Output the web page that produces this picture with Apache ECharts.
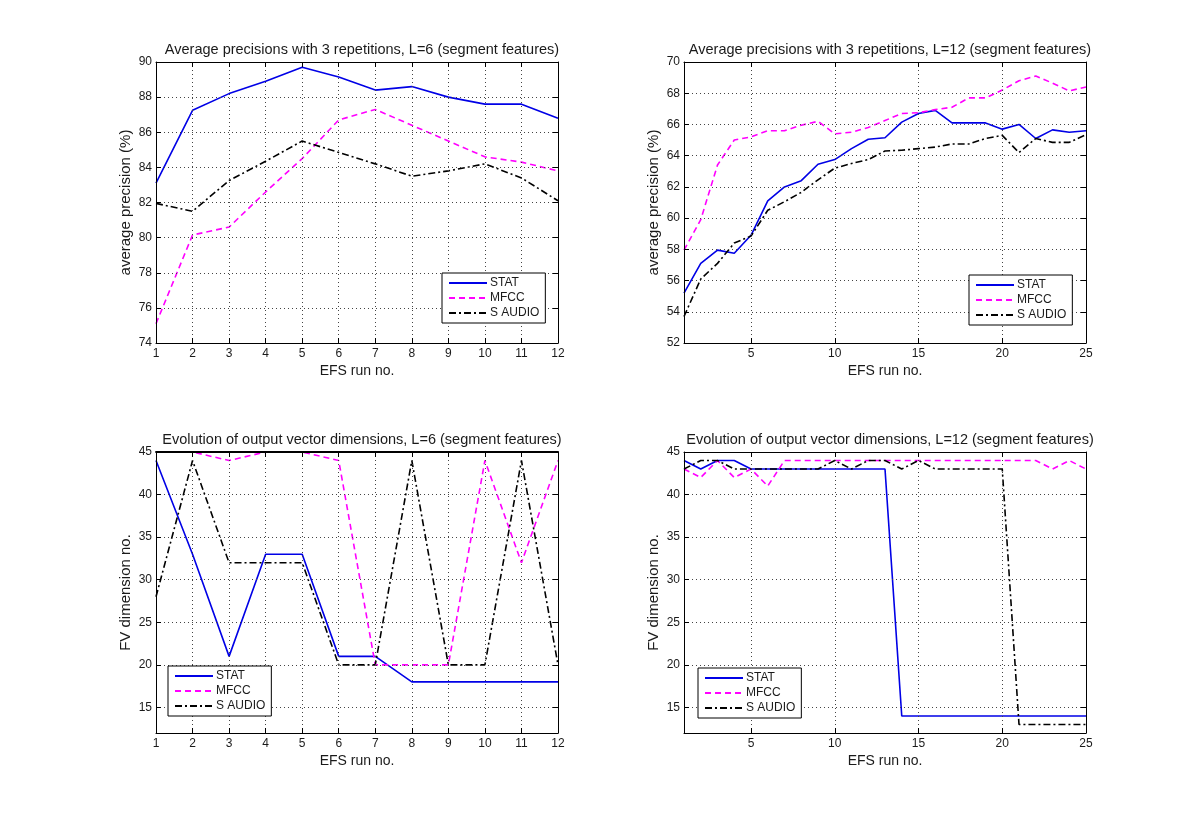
<!DOCTYPE html>
<html><head><meta charset="utf-8">
<script src="https://cdn.jsdelivr.net/npm/echarts@6/dist/echarts.min.js"></script>
<style>html,body{margin:0;padding:0;background:#fff}#c{width:1200px;height:823px}</style>
</head><body><div id="c"></div>
<script>
// ---------- data ----------
const seriesNames = ['STAT', 'MFCC', 'S AUDIO'];
const runsL6 = [1,2,3,4,5,6,7,8,9,10,11,12];
const runsL12 = [1,2,3,4,5,6,7,8,9,10,11,12,13,14,15,16,17,18,19,20,21,22,23,24,25];

// Average precision, L=6
const precL6_STAT   = [83.1, 87.25, 88.2, 88.9, 89.7, 89.15, 88.4, 88.6, 88.0, 87.6, 87.6, 86.8];
const precL6_MFCC   = [75.1, 80.15, 80.6, 82.6, 84.5, 86.7, 87.3, 86.4, 85.5, 84.6, 84.3, 83.8];
const precL6_SAUDIO = [81.95, 81.5, 83.25, 84.35, 85.5, 84.85, 84.2, 83.5, 83.8, 84.2, 83.4, 82.1];

// Average precision, L=12
const precL12_STAT   = [55.2, 57.1, 57.95, 57.75, 58.9, 61.1, 62.0, 62.4, 63.45, 63.75, 64.45, 65.05, 65.15, 66.15, 66.7, 66.9, 66.1, 66.1, 66.1, 65.7, 66.0, 65.1, 65.65, 65.5, 65.6];
const precL12_MFCC   = [57.95, 59.9, 63.4, 65.0, 65.2, 65.6, 65.6, 65.95, 66.2, 65.4, 65.5, 65.8, 66.25, 66.7, 66.75, 66.95, 67.1, 67.7, 67.7, 68.2, 68.8, 69.1, 68.65, 68.15, 68.4];
const precL12_SAUDIO = [53.7, 56.1, 57.1, 58.4, 58.85, 60.5, 61.05, 61.65, 62.45, 63.2, 63.5, 63.75, 64.3, 64.35, 64.45, 64.55, 64.75, 64.75, 65.1, 65.3, 64.2, 65.1, 64.85, 64.85, 65.35];

// FV dimension, L=6
const dimL6_STAT   = [44, 33, 21, 33, 33, 21, 21, 18, 18, 18, 18, 18];
const dimL6_MFCC   = [45, 45, 44, 45, 45, 44, 20, 20, 20, 44, 32, 44];
const dimL6_SAUDIO = [28, 44, 32, 32, 32, 20, 20, 44, 20, 20, 44, 20];

// FV dimension, L=12
const dimL12_STAT   = [44, 43, 44, 44, 43, 43, 43, 43, 43, 43, 43, 43, 43, 14, 14, 14, 14, 14, 14, 14, 14, 14, 14, 14, 14];
const dimL12_MFCC   = [43, 42, 44, 42, 43, 41, 44, 44, 44, 44, 44, 44, 44, 44, 44, 44, 44, 44, 44, 44, 44, 44, 43, 44, 43];
const dimL12_SAUDIO = [43, 44, 44, 43, 43, 43, 43, 43, 43, 44, 43, 44, 44, 43, 44, 43, 43, 43, 43, 43, 13, 13, 13, 13, 13];

const titles = [
  'Average precisions with 3 repetitions, L=6 (segment features)',
  'Average precisions with 3 repetitions, L=12 (segment features)',
  'Evolution of output vector dimensions, L=6 (segment features)',
  'Evolution of output vector dimensions, L=12 (segment features)'
];
const xName = 'EFS run no.';
const yNames = ['average precision (%)', 'average precision (%)', 'FV dimension no.', 'FV dimension no.'];
const xTicksL12 = [5, 10, 15, 20, 25];
const yTicksDim = [15, 20, 25, 30, 35, 40, 45];

// ---------- layout / style ----------
const FONT = "'Liberation Sans', Arial, sans-serif";
const TXT = '#1a1a1a';
const colors = ['#0000e6', '#ff00ff', '#000000'];
const dashes = ['solid', [6, 4], [7, 3, 2, 3]];

const panels = [
  {left: 156, top: 62,  runs: runsL6,  data: [precL6_STAT, precL6_MFCC, precL6_SAUDIO],
   x: {min: 1, max: 12, interval: 1}, y: {min: 74, max: 90, interval: 2}, legend: {left: 442, top: 273}, topW: 1},
  {left: 684, top: 62,  runs: runsL12, data: [precL12_STAT, precL12_MFCC, precL12_SAUDIO],
   x: {min: 1, max: 25, custom: xTicksL12}, y: {min: 52, max: 70, interval: 2}, legend: {left: 969, top: 275}, topW: 1},
  {left: 156, top: 452, runs: runsL6,  data: [dimL6_STAT, dimL6_MFCC, dimL6_SAUDIO],
   x: {min: 1, max: 12, interval: 1}, y: {min: 12, max: 45, custom: yTicksDim}, legend: {left: 168, top: 666}, topW: 1.8},
  {left: 684, top: 452, runs: runsL12, data: [dimL12_STAT, dimL12_MFCC, dimL12_SAUDIO],
   x: {min: 1, max: 25, custom: xTicksL12}, y: {min: 12, max: 45, custom: yTicksDim}, legend: {left: 698, top: 668}, topW: 1}
];
const W = 402, H = 281;

const grid = [], xAxis = [], yAxis = [], series = [], title = [], legend = [];

function makeAxis(spec, main, isX, gi, position, nameTxt, lw) {
  const a = {
    type: 'value', gridIndex: gi, position: position,
    min: spec.min, max: spec.max, z: 5,
    axisLine: {show: true, lineStyle: {color: '#000', width: lw || 1}},
    axisTick: {show: true, inside: true, length: 5, lineStyle: {color: '#000'}},
    axisLabel: {show: main, color: TXT, fontFamily: FONT, fontSize: 12, margin: isX ? 5 : 4},
    splitLine: {show: main, lineStyle: {color: '#444', type: [1, 3], width: 1}}
  };
  if (spec.interval) a.interval = spec.interval;
  if (spec.custom) {
    a.axisTick.customValues = spec.custom;
    a.axisLabel.customValues = spec.custom;
  }
  if (main) {
    a.name = nameTxt;
    a.nameLocation = 'middle';
    a.nameGap = isX ? 21 : 23;
    a.nameTextStyle = {color: TXT, fontFamily: FONT, fontSize: isX ? 14 : 15};
  }
  return a;
}

panels.forEach((p, i) => {
  grid.push({left: p.left, top: p.top, width: W, height: H, show: false, containLabel: false});
  const xi = xAxis.length;
  xAxis.push(makeAxis(p.x, true, true, i, 'bottom', xName));
  xAxis.push(makeAxis(p.x, false, true, i, 'top', null, p.topW));
  const yi = yAxis.length;
  yAxis.push(makeAxis(p.y, true, false, i, 'left', yNames[i]));
  yAxis.push(makeAxis(p.y, false, false, i, 'right', null));
  seriesNames.forEach((nm, k) => {
    series.push({
      type: 'line', name: nm, xAxisIndex: xi, yAxisIndex: yi,
      data: p.runs.map((r, j) => [r, p.data[k][j]]),
      symbol: 'none', clip: true, animation: false,
      lineStyle: {color: colors[k], width: 1.6, type: dashes[k]},
      itemStyle: {color: colors[k]}, z: 2
    });
  });
  title.push({
    text: titles[i], left: p.left + W / 2, top: p.top - 25, textAlign: 'center',
    textStyle: {color: TXT, fontFamily: FONT, fontSize: 14.5, fontWeight: 'normal'}
  });
  legend.push({
    data: seriesNames, orient: 'vertical', left: p.legend.left, top: p.legend.top,
    backgroundColor: '#fff', borderColor: '#000', borderWidth: 1,
    padding: [4, 6, 4, 6], itemGap: 3, itemWidth: 38, itemHeight: 14,
    itemStyle: {opacity: 0}, selectedMode: false, z: 10,
    textStyle: {color: TXT, fontFamily: FONT, fontSize: 12, padding: [0, 0, 0, -2]}
  });
});

const chart = echarts.init(document.getElementById('c'), null, {renderer: 'canvas'});
chart.setOption({
  backgroundColor: '#fff', animation: false,
  title, legend, grid, xAxis, yAxis, series
});
</script></body></html>
